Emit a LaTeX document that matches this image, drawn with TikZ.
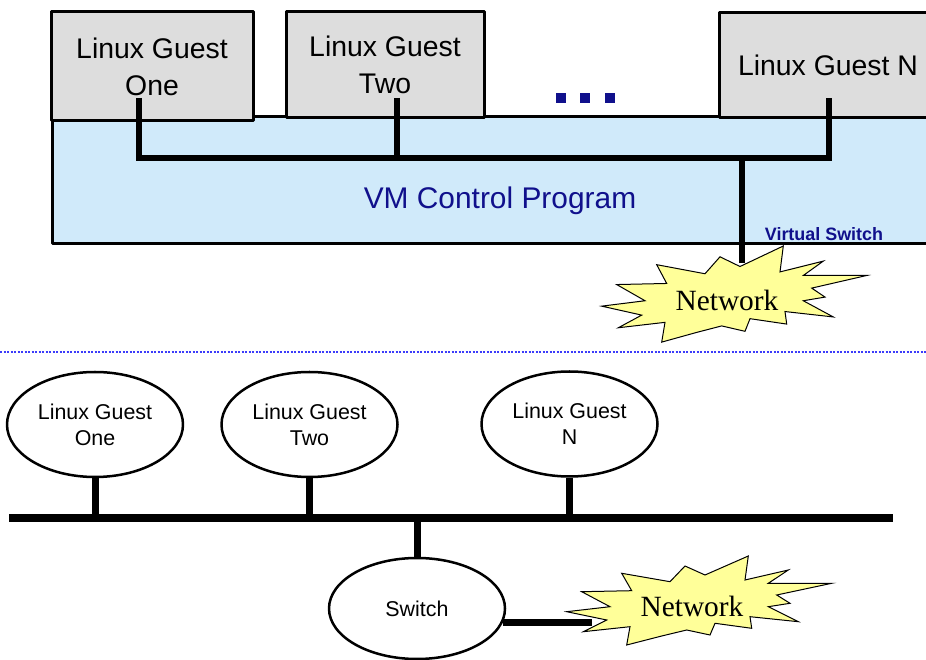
\documentclass[tikz,border=0pt]{standalone}
\usepackage{fontspec}
\setmainfont{Liberation Serif}
\setsansfont{Liberation Sans}
\usetikzlibrary{shapes.geometric}
\definecolor{guestgray}{RGB}{221,221,221}
\definecolor{cpblue}{RGB}{208,234,250}
\definecolor{cpnavy}{RGB}{16,16,140}
\definecolor{burstyellow}{RGB}{255,255,153}
\definecolor{sepblue}{RGB}{60,60,250}
\newcommand{\netburst}[2]{%
  \draw [burst,shift={#1},yscale=#2,x=1bp,y=1bp] (-125.3,-5.7) -- (-82,-0.7) -- (-110.3,14.3) -- (-60.3,15.3)
    -- (-70.3,32.7) -- (-22,24.3) -- (-7,40) -- (13,31) -- (56.3,50) -- (53,26) -- (96.3,36) -- (76.3,22.7)
    -- (139.7,22.7) -- (84.7,11) -- (98,2.7) -- (76.3,-0.7) -- (106.3,-15.7) -- (58,-10.7) -- (59.7,-22.3)
    -- (23,-17.3) -- (18,-29) -- (-5.3,-24) -- (-30.3,-30) -- (-65.3,-39) -- (-62,-20.7) -- (-108.7,-25.7)
    -- (-85.3,-14) -- cycle;}
\begin{document}
\begin{tikzpicture}[>=latex,line join=bevel,
  guestbox/.style={draw,line width=3bp,fill=guestgray,inner sep=0pt,align=center,font=\sffamily\fontsize{28.5}{37}\selectfont},
  cpbox/.style={draw,line width=3bp,fill=cpblue,inner sep=0pt},
  sqdot/.style={fill=cpnavy,minimum size=10bp,inner sep=0pt},
  guestoval/.style={ellipse,draw,line width=2.5bp,fill=white,inner sep=0pt,minimum width=176bp,minimum height=105bp,align=center,font=\sffamily\fontsize{21.5}{26}\selectfont},
  burst/.style={draw=black,line width=1bp,fill=burstyellow,line join=miter},
  nettext/.style={font=\rmfamily\fontsize{29.5}{32}\selectfont},
  wire/.style={line width=6bp,line join=miter},
  bus/.style={line width=8bp},
  stub/.style={line width=7bp},
]
\clip (0bp,0bp) rectangle (926bp,660bp);
%% VM host
\node (vm_cp) at (491bp,479.5bp) [cpbox,minimum width=878bp,minimum height=127bp] {};
\node (guest_one) at (152bp,593.5bp) [guestbox,minimum width=202bp,minimum height=109bp] {Linux Guest\\One};
\node (guest_two) at (385bp,595bp) [guestbox,minimum width=198bp,minimum height=106bp] {Linux Guest\\Two};
\node (guest_n) at (828bp,594.5bp) [guestbox,minimum width=218bp,minimum height=105bp] {Linux Guest N};
\node (dot_1) at (561bp,562bp) [sqdot] {};
\node (dot_2) at (585bp,562bp) [sqdot] {};
\node (dot_3) at (610bp,562bp) [sqdot] {};
\node (vm_label) at (500bp,459bp) [text=cpnavy,font=\sffamily\fontsize{30}{36}\selectfont] {VM Control Program};
\node (vsw_label) at (824bp,426bp) [text=cpnavy,font=\sffamily\bfseries\fontsize{18}{20}\selectfont] {Virtual Switch};
\netburst{(727bp,360bp)}{1.08}
\node (net_top) at (727bp,360bp) [nettext] {Network};
%
\coordinate (tap_one) at (139bp,562bp);
\coordinate (tap_two) at (397bp,562bp);
\coordinate (tap_n) at (829bp,562bp);
\coordinate (vsw) at (742bp,502bp);
\coordinate (net_top_in) at (742bp,397bp);
\draw [wire] (tap_one) -- (tap_one |- vsw) -- (tap_n |- vsw) -- (tap_n);
\draw [wire] (tap_two) -- (tap_two |- vsw);
\draw [wire] (vsw) -- (net_top_in);
%% separator
\draw [sepblue,line width=2bp,dash pattern=on 2bp off 1.5bp] (0bp,308bp) -- (926bp,308bp);
%% LAN
\node (lan_one) at (95bp,235.5bp) [guestoval] {Linux Guest\\One};
\node (lan_two) at (309.5bp,235.5bp) [guestoval] {Linux Guest\\Two};
\node (lan_n) at (569.5bp,236bp) [guestoval] {Linux Guest\\N};
\node (switch) at (417bp,51.5bp) [guestoval,minimum height=101bp] {Switch};
\netburst{(692bp,54bp)}{1}
\node (net_low) at (692bp,54bp) [nettext] {Network};
%
\coordinate (bus_west) at (9bp,142bp);
\coordinate (bus_east) at (893bp,142bp);
\coordinate (net_low_in) at (592bp,37.5bp);
\draw [bus] (bus_west) -- (bus_east);
\draw [stub] (lan_one.south) -- (lan_one.south |- bus_west);
\draw [stub] (lan_two.south) -- (lan_two.south |- bus_west);
\draw [stub] (lan_n.south) -- (lan_n.south |- bus_west);
\draw [stub] (switch.north) -- (switch.north |- bus_west);
\draw [stub] (switch.-9) -- (switch.-9 -| net_low_in);
%
\end{tikzpicture}
\end{document}
